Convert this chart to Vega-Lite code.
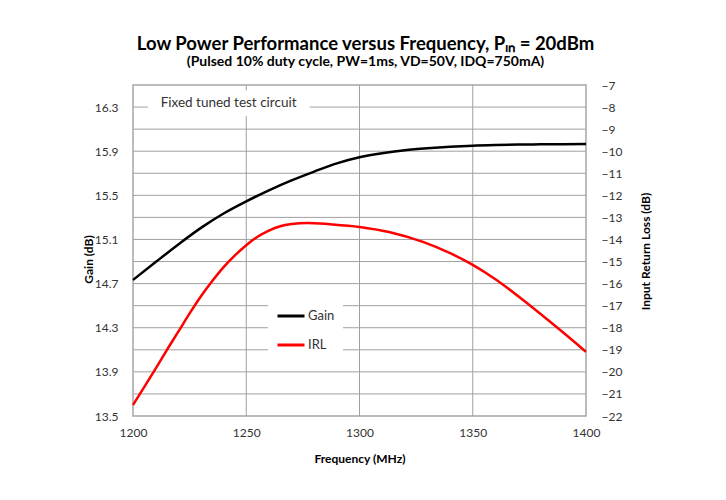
{
  "$schema": "https://vega.github.io/schema/vega-lite/v6.json",
  "width": 453,
  "height": 331,
  "autosize": {"type": "none"},
  "padding": {"left": 133, "top": 85, "right": 140, "bottom": 84},
  "background": "white",
  "title": {
    "text": "Low Power Performance versus Frequency, Pᵢₙ = 20dBm",
    "subtitle": "(Pulsed 10% duty cycle, PW=1ms, VD=50V, IDQ=750mA)",
    "font": "Lato",
    "fontSize": 18.5,
    "fontWeight": "bold",
    "color": "#000",
    "subtitleFont": "Lato",
    "subtitleFontSize": 14,
    "subtitleFontWeight": "bold",
    "subtitleColor": "#000",
    "anchor": "middle",
    "dx": 6,
    "offset": 10,
    "subtitlePadding": 2
  },
  "config": {
    "view": {"stroke": "#a6a6a6", "strokeWidth": 1.5},
    "axis": {
      "labelFont": "Lato",
      "labelFontSize": 12,
      "labelColor": "#333",
      "titleFont": "Lato",
      "titleFontSize": 12,
      "titleFontWeight": "bold",
      "titleColor": "#000"
    },
    "legend": {
      "orient": "none",
      "legendX": 135,
      "legendY": 208,
      "fillColor": "white",
      "padding": 8,
      "symbolType": "stroke",
      "symbolSize": 729,
      "symbolStrokeWidth": 3,
      "labelFont": "Lato",
      "labelFontSize": 13,
      "labelColor": "#333",
      "labelOffset": 2,
      "rowPadding": 7,
      "title": null
    }
  },
  "datasets": {
    "pts": [
      {"f": 1200, "s": "Gain", "v": 14.733},
      {"f": 1210, "s": "Gain", "v": 14.895},
      {"f": 1220, "s": "Gain", "v": 15.055},
      {"f": 1230, "s": "Gain", "v": 15.205},
      {"f": 1240, "s": "Gain", "v": 15.335},
      {"f": 1250, "s": "Gain", "v": 15.445},
      {"f": 1260, "s": "Gain", "v": 15.545},
      {"f": 1270, "s": "Gain", "v": 15.635},
      {"f": 1280, "s": "Gain", "v": 15.715},
      {"f": 1290, "s": "Gain", "v": 15.79},
      {"f": 1300, "s": "Gain", "v": 15.845},
      {"f": 1310, "s": "Gain", "v": 15.882},
      {"f": 1320, "s": "Gain", "v": 15.908},
      {"f": 1330, "s": "Gain", "v": 15.926},
      {"f": 1340, "s": "Gain", "v": 15.94},
      {"f": 1350, "s": "Gain", "v": 15.95},
      {"f": 1360, "s": "Gain", "v": 15.956},
      {"f": 1370, "s": "Gain", "v": 15.96},
      {"f": 1380, "s": "Gain", "v": 15.962},
      {"f": 1390, "s": "Gain", "v": 15.964},
      {"f": 1400, "s": "Gain", "v": 15.965},
      {"f": 1200, "s": "IRL", "v": -21.5},
      {"f": 1205, "s": "IRL", "v": -20.68},
      {"f": 1210, "s": "IRL", "v": -19.85},
      {"f": 1215, "s": "IRL", "v": -19.0},
      {"f": 1220, "s": "IRL", "v": -18.18},
      {"f": 1225, "s": "IRL", "v": -17.35},
      {"f": 1230, "s": "IRL", "v": -16.57},
      {"f": 1235, "s": "IRL", "v": -15.88},
      {"f": 1240, "s": "IRL", "v": -15.25},
      {"f": 1245, "s": "IRL", "v": -14.72},
      {"f": 1250, "s": "IRL", "v": -14.26},
      {"f": 1255, "s": "IRL", "v": -13.88},
      {"f": 1260, "s": "IRL", "v": -13.6},
      {"f": 1265, "s": "IRL", "v": -13.4},
      {"f": 1270, "s": "IRL", "v": -13.3},
      {"f": 1277, "s": "IRL", "v": -13.25},
      {"f": 1287, "s": "IRL", "v": -13.31},
      {"f": 1300, "s": "IRL", "v": -13.43},
      {"f": 1313, "s": "IRL", "v": -13.66},
      {"f": 1328, "s": "IRL", "v": -14.11},
      {"f": 1340, "s": "IRL", "v": -14.62},
      {"f": 1350, "s": "IRL", "v": -15.15},
      {"f": 1360, "s": "IRL", "v": -15.8},
      {"f": 1375, "s": "IRL", "v": -16.97},
      {"f": 1387, "s": "IRL", "v": -17.97},
      {"f": 1400, "s": "IRL", "v": -19.09}
    ],
    "hg": [
      {"g": 13.7}, {"g": 13.9}, {"g": 14.1}, {"g": 14.3}, {"g": 14.5}, {"g": 14.7},
      {"g": 14.9}, {"g": 15.1}, {"g": 15.3}, {"g": 15.5}, {"g": 15.7}, {"g": 15.9},
      {"g": 16.1}, {"g": 16.3}
    ],
    "vg": [{"f": 1250}, {"f": 1300}, {"f": 1350}],
    "note": [
      {"label": "Fixed tuned test circuit", "f": 1242.2, "v": 16.337, "f1": 1206.6, "f2": 1278, "v1": 16.22, "v2": 16.45}
    ]
  },
  "layer": [
    {
      "data": {"name": "vg"},
      "mark": {"type": "rule", "color": "#a0a0a0", "strokeWidth": 1},
      "encoding": {
        "x": {"field": "f", "type": "quantitative", "scale": {"domain": [1200, 1400], "nice": false}}
      }
    },
    {
      "layer": [
        {
          "data": {"name": "hg"},
          "mark": {"type": "rule", "color": "#a0a0a0", "strokeWidth": 1},
          "encoding": {
            "y": {"field": "g", "type": "quantitative"}
          }
        },
        {
          "data": {"name": "pts"},
          "transform": [{"filter": "datum.s === 'Gain'"}],
          "mark": {"type": "line", "strokeWidth": 2.5, "interpolate": "monotone"},
          "encoding": {
            "x": {
              "field": "f",
              "type": "quantitative",
              "scale": {"domain": [1200, 1400], "nice": false},
              "axis": {
                "values": [1200, 1250, 1300, 1350, 1400],
                "format": "d",
                "labelOverlap": false,
                "labelFlush": false,
                "grid": false,
                "domain": false,
                "ticks": false,
                "title": "Frequency (MHz)",
                "labelPadding": 11,
                "titlePadding": 15
              }
            },
            "y": {
              "field": "v",
              "type": "quantitative",
              "scale": {"domain": [13.5, 16.5], "nice": false, "zero": false},
              "axis": {
                "orient": "left",
                "values": [13.5, 13.7, 13.9, 14.1, 14.3, 14.5, 14.7, 14.9, 15.1, 15.3, 15.5, 15.7, 15.9, 16.1, 16.3, 16.5],
                "format": ".1f",
                "labelOverlap": false,
                "labelFlush": false,
                "grid": false,
                "domain": false,
                "ticks": false,
                "title": "Gain (dB)",
                "labelPadding": 15,
                "titleAngle": -90,
                "titleX": -45,
                "titleY": 174,
                "titleAlign": "center",
                "titleBaseline": "middle"
              }
            },
            "color": {
              "field": "s",
              "type": "nominal",
              "scale": {"domain": ["Gain", "IRL"], "range": ["#000000", "#ff0000"]}
            }
          }
        },
        {
          "data": {"name": "note"},
          "mark": {"type": "rect", "color": "white"},
          "encoding": {
            "x": {"field": "f1", "type": "quantitative"},
            "x2": {"field": "f2"},
            "y": {"field": "v1", "type": "quantitative"},
            "y2": {"field": "v2"}
          }
        },
        {
          "data": {"name": "note"},
          "mark": {"type": "text", "font": "Lato", "fontSize": 13.5, "color": "#333", "align": "center", "baseline": "middle"},
          "encoding": {
            "x": {"field": "f", "type": "quantitative"},
            "y": {"field": "v", "type": "quantitative"},
            "text": {"field": "label"}
          }
        }
      ]
    },
    {
      "data": {"name": "pts"},
      "transform": [{"filter": "datum.s === 'IRL'"}],
      "mark": {"type": "line", "strokeWidth": 2.5, "interpolate": "monotone"},
      "encoding": {
        "x": {"field": "f", "type": "quantitative", "scale": {"domain": [1200, 1400], "nice": false}},
        "y": {
          "field": "v",
          "type": "quantitative",
          "scale": {"domain": [-22, -7], "nice": false, "zero": false},
          "axis": {
            "orient": "right",
            "values": [-22, -21, -20, -19, -18, -17, -16, -15, -14, -13, -12, -11, -10, -9, -8, -7],
            "format": "d",
            "labelOverlap": false,
            "labelFlush": false,
            "grid": false,
            "domain": false,
            "ticks": false,
            "title": "Input Return Loss (dB)",
            "labelPadding": 15,
            "titleAngle": -90,
            "titleX": 59,
            "titleY": 166,
            "titleAlign": "center",
            "titleBaseline": "middle"
          }
        },
        "color": {"field": "s", "type": "nominal"}
      }
    }
  ],
  "resolve": {"scale": {"y": "independent"}}
}
